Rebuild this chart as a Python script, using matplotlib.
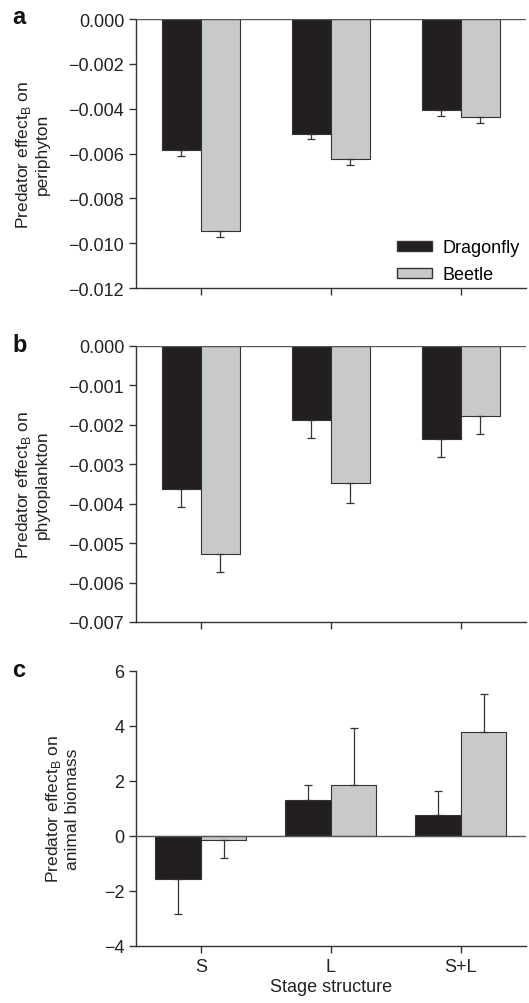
import matplotlib.pyplot as plt
from matplotlib.patches import Patch

plt.rcParams['font.family'] = ['Liberation Sans', 'DejaVu Sans']

# stage structure treatments
stages = ['S', 'L', 'S+L']

# panel a: periphyton
peri_dragonfly = [-0.00585, -0.00512, -0.00405]
peri_dragonfly_se = [0.00025, 0.00025, 0.00028]
peri_beetle = [-0.00945, -0.00624, -0.00436]
peri_beetle_se = [0.00029, 0.00026, 0.00028]

# panel b: phytoplankton
phyto_dragonfly = [-0.00363, -0.00187, -0.00236]
phyto_dragonfly_se = [0.00046, 0.00046, 0.00046]
phyto_beetle = [-0.00527, -0.00347, -0.00177]
phyto_beetle_se = [0.00047, 0.00051, 0.00047]

# panel c: animal biomass
anim_dragonfly = [-1.55, 1.32, 0.76]
anim_dragonfly_se = [1.30, 0.52, 0.88]
anim_beetle = [-0.15, 1.85, 3.76]
anim_beetle_se = [0.66, 2.06, 1.39]

DARK = '#231f20'
LIGHT = '#c8c9cb'
AXC = '#333333'
TXT = '#222222'
FS = 13

fig = plt.figure(figsize=(5.29, 10.04), dpi=100)
axes = [fig.add_axes([0.257, 0.712, 0.737, 0.268]),
        fig.add_axes([0.257, 0.3795, 0.737, 0.275]),
        fig.add_axes([0.257, 0.0568, 0.737, 0.274])]


def one_sided(vals, se):
    # error only drawn away from zero
    lo = [s if v < 0 else 0 for v, s in zip(vals, se)]
    hi = [s if v >= 0 else 0 for v, s in zip(vals, se)]
    return [lo, hi]


def draw_panel(ax, d, dse, b, bse, width):
    x = range(len(stages))
    xd = [i - width / 2 for i in x]
    xb = [i + width / 2 for i in x]
    ax.bar(xd, d, width, color=DARK, edgecolor=AXC, linewidth=0.8, zorder=2)
    ax.bar(xb, b, width, color=LIGHT, edgecolor=AXC, linewidth=0.8, zorder=2)
    ax.errorbar(xd, d, yerr=one_sided(d, dse), fmt='none', ecolor=AXC,
                elinewidth=0.9, capsize=2.9, capthick=0.9, zorder=3)
    ax.errorbar(xb, b, yerr=one_sided(b, bse), fmt='none', ecolor=AXC,
                elinewidth=0.9, capsize=2.9, capthick=0.9, zorder=3)
    ax.axhline(0, color='#555555', linewidth=1.0, zorder=4)
    ax.set_xlim(-0.5, 2.5)
    ax.set_xticks(list(x))
    ax.spines['top'].set_visible(False)
    ax.spines['right'].set_visible(False)
    for s in ('left', 'bottom'):
        ax.spines[s].set_color(AXC)
        ax.spines[s].set_linewidth(1.0)
    ax.tick_params(direction='out', length=5, width=1.0, colors=AXC,
                   labelsize=FS, labelcolor=TXT)


# a
ax = axes[0]
draw_panel(ax, peri_dragonfly, peri_dragonfly_se, peri_beetle, peri_beetle_se, 0.3)
ax.set_ylim(-0.012, 0)
ax.set_yticks([-0.012, -0.010, -0.008, -0.006, -0.004, -0.002, 0.0])
ax.set_yticklabels(['\u22120.012', '\u22120.010', '\u22120.008', '\u22120.006',
                    '\u22120.004', '\u22120.002', '0.000'])
ax.set_xticklabels([])
ax.set_ylabel('Predator effect$_\\mathregular{B}$ on\nperiphyton', fontsize=12.5,
              color=TXT)
ax.yaxis.set_label_coords(-0.2205, 0.5)
ax.legend(handles=[Patch(facecolor=DARK, edgecolor=AXC, label='Dragonfly'),
                   Patch(facecolor=LIGHT, edgecolor=AXC, label='Beetle')],
          loc='lower right', frameon=False, fontsize=FS, handlelength=1.95,
          handleheight=0.5, handletextpad=0.6, labelspacing=0.56,
          borderaxespad=0.2, bbox_to_anchor=(1.013, -0.022))

# b
ax = axes[1]
draw_panel(ax, phyto_dragonfly, phyto_dragonfly_se, phyto_beetle, phyto_beetle_se, 0.3)
ax.set_ylim(-0.007, 0)
ax.set_yticks([-0.007, -0.006, -0.005, -0.004, -0.003, -0.002, -0.001, 0.0])
ax.set_yticklabels(['\u22120.007', '\u22120.006', '\u22120.005', '\u22120.004',
                    '\u22120.003', '\u22120.002', '\u22120.001', '0.000'])
ax.set_xticklabels([])
ax.set_ylabel('Predator effect$_\\mathregular{B}$ on\nphytoplankton', fontsize=12.5,
              color=TXT)
ax.yaxis.set_label_coords(-0.2205, 0.5)

# c
ax = axes[2]
draw_panel(ax, anim_dragonfly, anim_dragonfly_se, anim_beetle, anim_beetle_se, 0.35)
ax.set_ylim(-4, 6)
ax.set_yticks([-4, -2, 0, 2, 4, 6])
ax.set_yticklabels(['\u22124', '\u22122', '0', '2', '4', '6'])
ax.set_xticklabels(stages)
ax.set_xlabel('Stage structure', fontsize=FS, color=TXT, labelpad=2)
ax.set_ylabel('Predator effect$_\\mathregular{B}$ on\nanimal biomass', fontsize=12.5,
              color=TXT)
ax.yaxis.set_label_coords(-0.1436, 0.5)

# panel letters
for letter, ypix in (('a', 18), ('b', 346), ('c', 671)):
    fig.text(12 / 529, 1 - ypix / 1004, letter, fontsize=17, fontweight='bold',
             va='center', ha='left', color='#111111')

fig.savefig('out.png', dpi=100)
